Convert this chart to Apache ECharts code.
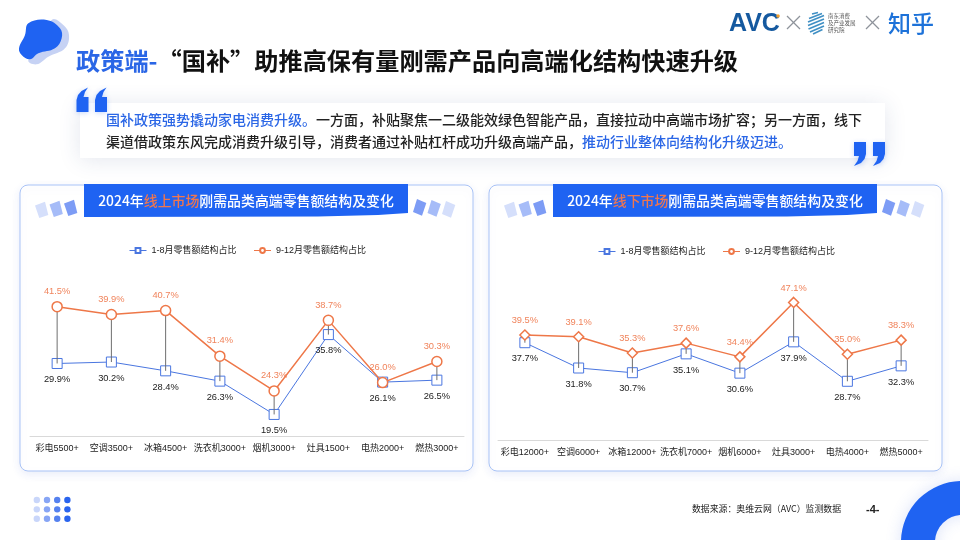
<!DOCTYPE html>
<html><head><meta charset="utf-8">
<style>html,body{margin:0;padding:0;background:#fff}#c{width:960px;height:540px}</style>
<script src="https://cdn.jsdelivr.net/npm/echarts@6/dist/echarts.min.js"></script>
</head><body><div id="c"></div>
<script>
const onlineCategories = ['彩电5500+','空调3500+','冰箱4500+','洗衣机3000+','烟机3000+','灶具1500+','电热2000+','燃热3000+'];
const offlineCategories = ['彩电12000+','空调6000+','冰箱12000+','洗衣机7000+','烟机6000+','灶具3000+','电热4000+','燃热5000+'];
const onlineEarly = [29.9,30.2,28.4,26.3,19.5,35.8,26.1,26.5];
const onlineLate = [41.5,39.9,40.7,31.4,24.3,38.7,26.0,30.3];
const offlineEarly = [37.7,31.8,30.7,35.1,30.6,37.9,28.7,32.3];
const offlineLate = [39.5,39.1,35.3,37.6,34.4,47.1,35.0,38.3];
const earlyName = '1-8月零售额结构占比';
const lateName = '9-12月零售额结构占比';

const FONT = '"Liberation Sans","Noto Sans CJK SC",sans-serif';
const CJK = '"Noto Sans CJK SC",sans-serif';
const BLUE = '#1f63f2', ORANGE = '#ee7748', LINEBLUE = '#4a76e0';

const chart = echarts.init(document.getElementById('c'), null, {renderer:'canvas'});

function hiLo(idx, early, late){
  return {
    type:'custom', xAxisIndex:idx, yAxisIndex:idx, z:3, silent:true, legendHoverLink:false,
    tooltip:{show:false},
    data: early.map((v,i)=>[i,v,late[i]]),
    encode:{x:0,y:[1,2]},
    renderItem(p,api){
      const a=api.coord([api.value(0),api.value(1)]), b=api.coord([api.value(0),api.value(2)]);
      return {type:'line',shape:{x1:a[0],y1:a[1],x2:b[0],y2:b[1]},style:{stroke:'#6e6e6e',lineWidth:1}};
    }
  };
}
function earlySeries(idx,data,dist){
  return {name:earlyName,type:'line',xAxisIndex:idx,yAxisIndex:idx,data,z:2,
    symbol:'rect',symbolSize:10,showSymbol:true,
    lineStyle:{color:LINEBLUE,width:1},
    itemStyle:{color:'#fff',borderColor:LINEBLUE,borderWidth:1},
    label:{show:true,position:'bottom',distance:dist,color:'#222',fontSize:9.3,fontFamily:FONT,
      formatter:p=>p.value.toFixed(1)+'%'}};
}
function lateSeries(idx,data,sym,size,dist){
  return {name:lateName,type:'line',xAxisIndex:idx,yAxisIndex:idx,data,z:4,
    symbol:sym,symbolSize:size,showSymbol:true,
    lineStyle:{color:ORANGE,width:1.5},
    itemStyle:{color:'#fff',borderColor:ORANGE,borderWidth:1.5},
    label:{show:true,position:'top',distance:dist,color:'#f0845c',fontSize:9.3,fontFamily:FONT,
      formatter:p=>p.value.toFixed(1)+'%'}};
}
function xAxis(idx,cats){
  return {type:'category',gridIndex:idx,data:cats,boundaryGap:true,
    axisLine:{lineStyle:{color:'#d9d9d9',width:1}},axisTick:{show:false},
    axisLabel:{interval:0,color:'#222',fontSize:9,fontFamily:FONT,margin:8}};
}
function yAxis(idx){
  return {type:'value',gridIndex:idx,min:15,max:50,show:false,splitLine:{show:false}};
}
function legend(left,top){
  return {left,top,itemWidth:17,itemHeight:6,itemGap:17,
    data:[earlyName,lateName],lineStyle:{width:1},
    textStyle:{color:'#222',fontSize:9,fontFamily:FONT},selectedMode:false};
}

function panel(x){
  return {type:'rect',z:-10,shape:{x,y:185,width:453,height:286,r:8},
    style:{fill:'#fff',stroke:'#a9c3f6',lineWidth:1,shadowBlur:10,shadowColor:'rgba(60,100,220,0.10)',shadowOffsetY:3}};
}
function banner(x,word,year,rest){
  const w=324, t=184, b=217.5;
  return [
    {type:'polygon',z:-5,shape:{points:[[x,t],[x+w,t],[x+w,b-4.5],[x+w-30,b-2.5],[x+w-90,b-1],[x,b-0.5]]},style:{fill:BLUE}},
    {type:'text',z:-4,x:x+162,y:201,style:{
      text:'{w|'+year+'}{o|'+word+'}{w|'+rest+'}',align:'center',verticalAlign:'middle',
      rich:{w:{fill:'#fff',fontSize:13.9,fontWeight:500,fontFamily:CJK},
            o:{fill:'#f0764e',fontSize:13.9,fontWeight:500,fontFamily:CJK}}}}
  ];
}
function chips(x,cols){
  return cols.map((c,i)=>{
    const cx=x+i*14.5, d=-i*1;
    return {type:'polygon',z:-5,shape:{points:[[cx,205.5+d],[cx+10,201.7+d],[cx+13.3,215+d],[cx+4.3,218+d]]},style:{fill:c}};
  });
}
function chipsR(x,cols){
  return cols.map((c,i)=>{
    const cx=x+i*14.5, d=i*1;
    return {type:'polygon',z:-5,shape:{points:[[cx+4,199+d],[cx+13.3,203+d],[cx+9,215.7+d],[cx,212+d]]},style:{fill:c}};
  });
}
const quoteStyle={fill:BLUE,shadowBlur:5,shadowColor:'rgba(31,99,242,0.25)',shadowOffsetY:1};
function quoteOpen(x){
  return {type:'polygon',z:2,shape:{points:[[x,112],[x,100],[x+1.5,95],[x+5,91],[x+11.5,87.5],[x+8.5,92],[x+7,97],[x+12,97],[x+12,112]]},style:quoteStyle};
}
function quoteClose(x){
  return {type:'polygon',z:2,shape:{points:[[x,142],[x+12,142],[x+12,154],[x+10.5,159],[x+7,163],[x,166],[x+3.5,161],[x+5,156],[x,156]]},style:quoteStyle};
}
const dotCols=['#c9d6fa','#87a5f5','#5581ef','#2a64ee'];
const dots=[];
for(let r=0;r<3;r++)for(let c=0;c<4;c++){
  dots.push({type:'circle',shape:{cx:36.8+c*10.2,cy:500+r*9.35,r:3.2},style:{fill:dotCols[c]}});
}
const stripeSpec=[[812,14,818,12.5],[809,18.5,822,13.5],[808,22,824,15.5],[808,25.5,824,19],[808.5,29,824,22.5],[810,32,824,26],[813,34,822.5,29.5]];
const stripes=stripeSpec.map(s=>({type:'line',shape:{x1:s[0],y1:s[1],x2:s[2],y2:s[3]},style:{stroke:'#3f8fc4',lineWidth:1.6}}));
function cross(x,y){
  return [
    {type:'line',shape:{x1:x,y1:y,x2:x+13,y2:y+13},style:{stroke:'#8e939b',lineWidth:1.3}},
    {type:'line',shape:{x1:x+13,y1:y,x2:x,y2:y+13},style:{stroke:'#8e939b',lineWidth:1.3}}
  ];
}
const blobShade=[[110,15],[145,30],[162,60],[150,100],[100,125],[65,148],[40,135]].map(p=>[15+p[0]/3,15+p[1]/3]);
const blobFront=[[40,25],[95,15],[135,40],[140,70],[120,100],[70,115],[45,133],[20,120],[12,100],[30,60]].map(p=>[15+p[0]/3,15+p[1]/3]);

chart.setOption({
  animation:false,
  backgroundColor:'#fff',
  legend:[legend(124,241),legend(593,242)],
  grid:[
    {left:30,top:265,width:434,height:171.5,containLabel:false},
    {left:498,top:290,width:430,height:150,containLabel:false}
  ],
  xAxis:[xAxis(0,onlineCategories),xAxis(1,offlineCategories)],
  yAxis:[yAxis(0),yAxis(1)],
  series:[
    earlySeries(0,onlineEarly,6),hiLo(0,onlineEarly,onlineLate),lateSeries(0,onlineLate,'circle',10,5),
    earlySeries(1,offlineEarly,6),hiLo(1,offlineEarly,offlineLate),lateSeries(1,offlineLate,'diamond',10,4)
  ],
  graphic:{elements:[
    {type:'ring',z:-20,shape:{cx:962,cy:542,r:61,r0:27},style:{fill:BLUE,shadowBlur:16,shadowColor:'rgba(60,100,220,0.18)'}},
    {type:'polygon',z:-20,shape:{smooth:0.4,points:blobShade},style:{fill:'#c6d2f4'}},
    {type:'polygon',z:-19,shape:{smooth:0.4,points:blobFront},style:{fill:BLUE}},
    {type:'text',x:76,y:61,style:{
      text:'{b|政策端-}{k|“国补”助推高保有量刚需产品向高端化结构快速升级}',align:'left',verticalAlign:'middle',
      rich:{b:{fill:'#2a66e6',fontSize:24.2,fontWeight:700,fontFamily:CJK},
            k:{fill:'#111',fontSize:24.2,fontWeight:700,fontFamily:CJK}}}},
    {type:'rect',z:-15,shape:{x:80,y:103,width:805,height:55},
      style:{fill:'#fff',shadowBlur:22,shadowColor:'rgba(40,60,120,0.13)',shadowOffsetY:2}},
    quoteOpen(76.5),quoteOpen(95),quoteClose(854),quoteClose(873),
    {type:'text',x:106,y:120,style:{
      text:'{b|国补政策强势撬动家电消费升级。}{k|一方面，补贴聚焦一二级能效绿色智能产品，直接拉动中高端市场扩容；另一方面，线下}',
      align:'left',verticalAlign:'middle',
      rich:{b:{fill:'#2a66e6',fontSize:14,fontWeight:500,fontFamily:CJK},
            k:{fill:'#222',fontSize:14,fontWeight:500,fontFamily:CJK}}}},
    {type:'text',x:106,y:142,style:{
      text:'{k|渠道借政策东风完成消费升级引导，消费者通过补贴杠杆成功升级高端产品，}{b|推动行业整体向结构化升级迈进。}',
      align:'left',verticalAlign:'middle',
      rich:{b:{fill:'#2a66e6',fontSize:14,fontWeight:500,fontFamily:CJK},
            k:{fill:'#222',fontSize:14,fontWeight:500,fontFamily:CJK}}}},
    panel(20),panel(489),
    ...banner(84,'线上市场','2024年','刚需品类高端零售额结构及变化'),
    ...banner(553,'线下市场','2024年','刚需品类高端零售额结构及变化'),
    ...chips(35,['#d5dffb','#a6bcf8','#7d9cf5']),
    ...chipsR(413,['#7d9cf5','#a6bcf8','#d5dffb']),
    ...chips(504,['#d5dffb','#a6bcf8','#7d9cf5']),
    ...chipsR(882,['#7d9cf5','#a6bcf8','#d5dffb']),
    ...dots,
    {type:'text',x:692,y:509,style:{text:'数据来源：奥维云网（AVC）监测数据',fill:'#222',fontSize:8.9,fontFamily:CJK,verticalAlign:'middle'}},
    {type:'text',x:866,y:510,style:{text:'-4-',fill:'#222',fontSize:11,fontWeight:'bold',fontFamily:FONT,verticalAlign:'middle'}},
    {type:'text',x:729,y:24,style:{text:'AVC',fill:'#15599f',fontSize:25,fontWeight:'bold',fontFamily:FONT,verticalAlign:'middle'}},
    {type:'circle',shape:{cx:778,cy:16,r:1.8},style:{fill:'#f0a030'}},
    ...cross(787,16),
    ...stripes,
    {type:'text',x:828,y:23,style:{text:'南东消费\n及产业发展\n研究院',fill:'#555',fontSize:5.5,lineHeight:7,fontFamily:CJK,verticalAlign:'middle'}},
    ...cross(866,16),
    {type:'text',x:888,y:23,style:{text:'知乎',fill:'#1d72d9',fontSize:23,fontWeight:500,fontFamily:CJK,verticalAlign:'middle'}}
  ]}
});
</script></body></html>
